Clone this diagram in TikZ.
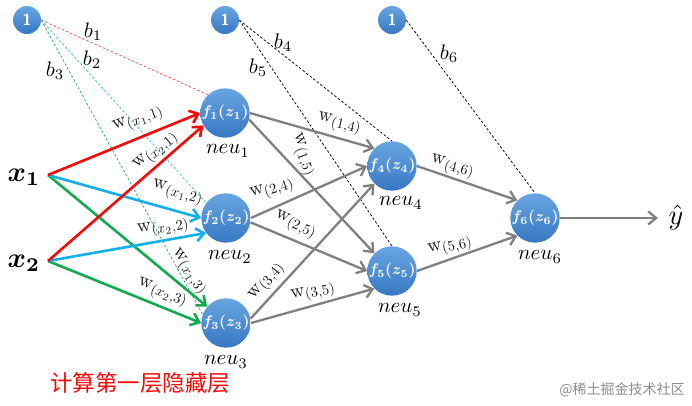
\documentclass[tikz,border=0pt]{standalone}
\usepackage{graphicx}
\usepackage{bm}
\usepackage{fontspec}
\newfontfamily\cjk{Noto Sans CJK SC}
\usetikzlibrary{arrows.meta}
\definecolor{ntop}{RGB}{105,165,225}
\definecolor{nbot}{RGB}{55,120,195}
\definecolor{nred}{RGB}{245,10,10}
\definecolor{ncyan}{RGB}{20,175,235}
\definecolor{ngreen}{RGB}{20,170,80}
\definecolor{ngray}{RGB}{128,128,128}
\definecolor{dred}{RGB}{235,80,80}
\definecolor{dcyan}{RGB}{70,180,220}
\definecolor{dgreen}{RGB}{40,170,130}
\newcommand\wlab[1]{\scalebox{1.95}{$\mathrm{w}$}\raisebox{-3.8pt}{\scalebox{1.45}{$(#1)$}}}
\newcommand\mysc[2]{\scalebox{#1}{#2}}
\begin{document}
\begin{tikzpicture}[x=1pt,y=-1pt,
  fnode/.style={circle,minimum size=44pt,inner sep=0pt,top color=ntop,bottom color=nbot,draw=none,text=white},
  bnode/.style={circle,minimum size=28pt,inner sep=0pt,top color=ntop,bottom color=nbot,draw=none,text=white,font=\sffamily\bfseries\fontsize{16}{16}\selectfont},
  arr/.style={line width=2.6pt,-{Straight Barb[length=8pt,width=13pt]}},
  garr/.style={arr,ngray,line width=2.3pt},
  bias/.style={line width=0.75pt,dash pattern=on 2.5pt off 2pt},
  wl/.style={inner sep=0pt,text=black!90},
  bl/.style={inner sep=0pt},
  nl/.style={inner sep=0pt}]
\useasboundingbox[fill=white] (0,0) rectangle (692,405);
% nodes
\node[bnode] (c1) at (27,20) {1};
\node[bnode] (c2) at (225,20) {1};
\node[bnode] (c3) at (392,20) {1};
\node[fnode] (f1) at (225,113) {\mysc{1.55}{$\bm{f_1(z_1)}$}};
\node[fnode] (f2) at (226,218) {\mysc{1.55}{$\bm{f_2(z_2)}$}};
\node[fnode] (f3) at (226,323) {\mysc{1.55}{$\bm{f_3(z_3)}$}};
\node[fnode] (f4) at (392,166) {\mysc{1.55}{$\bm{f_4(z_4)}$}};
\node[fnode] (f5) at (392,271) {\mysc{1.55}{$\bm{f_5(z_5)}$}};
\node[fnode] (f6) at (535,218) {\mysc{1.55}{$\bm{f_6(z_6)}$}};
\node[inner sep=0pt] (x1) at (24,177) {\mysc{2.8}{$\bm{x_1}$}};
\node[inner sep=0pt] (x2) at (24,263) {\mysc{2.8}{$\bm{x_2}$}};
\coordinate (x1o) at (48,175);
\coordinate (x2o) at (48,261);
\coordinate (yo) at (658,218);
\node[inner sep=0pt] (yh) at (676,217) {\mysc{2.8}{$\hat{y}$}};
% bias dashed
\draw[bias,dred] (c1.east) -- (f1.133);
\draw[bias,dcyan] (c1.east) -- (f2.143);
\draw[bias,dgreen] (c1.east) -- (f3.160);
\draw[bias,black] (c2.east) -- (f4.north);
\draw[bias,black] (c2.east) -- (f5.north);
\draw[bias,black] (c3.east) -- (f6.north);
% input arrows
\draw[arr,ngreen] (x1o) -- (f3.139);
\draw[arr,ngreen] (x2o) -- (f3.180);
\draw[arr,ncyan] (x1o) -- (f2.180);
\draw[arr,ncyan] (x2o) -- (f2.217);
\draw[arr,nred] (x1o) -- (f1.180);
\draw[arr,nred] (x2o) -- (f1.210);
% hidden arrows
\draw[garr] (f1.east) -- (f4.135);
\draw[garr] (f1.345) -- (f5.135);
\draw[garr] (f2.east) -- (f4.180);
\draw[garr] (f2.350) -- (f5.180);
\draw[garr] (f3.10) -- (f4.225);
\draw[garr] (f3.east) -- (f5.225);
\draw[garr] (f4.east) -- (f6.135);
\draw[garr] (f5.east) -- (f6.225);
\draw[garr] (f6.east) -- (yo);
% bias labels
\node[bl] (lb1) at (93,32) {\mysc{2.1}{$b_1$}};
\node[bl] (lb2) at (92,60) {\mysc{2.1}{$b_2$}};
\node[bl] (lb3) at (55,71) {\mysc{2.1}{$b_3$}};
\node[bl] (lb4) at (283,43) {\mysc{2.1}{$b_4$}};
\node[bl] (lb5) at (258,68) {\mysc{2.1}{$b_5$}};
\node[bl] (lb6) at (449,54) {\mysc{2.1}{$b_6$}};
% weight labels
\node[wl,rotate=20] (w11) at (138,120) {\wlab{x_1{,}1}};
\node[wl,rotate=40] (w21) at (156,152) {\wlab{x_2{,}1}};
\node[wl,rotate=-15] (w12) at (177,193) {\wlab{x_1{,}2}};
\node[wl,rotate=8] (w22) at (163,228) {\wlab{x_2{,}2}};
\node[wl,rotate=-55] (w13) at (188,272) {\wlab{x_1{,}3}};
\node[wl,rotate=-20] (w23) at (162,293) {\wlab{x_2{,}3}};
\node[wl,rotate=-13] (w14) at (339,124) {\wlab{1{,}4}};
\node[wl,rotate=-70] (w15) at (302,155) {\wlab{1{,}5}};
\node[wl,rotate=17] (w24) at (272,190) {\wlab{2{,}4}};
\node[wl,rotate=-25] (w25) at (295,225) {\wlab{2{,}5}};
\node[wl,rotate=50] (w34) at (267,282) {\wlab{3{,}4}};
\node[wl,rotate=12] (w35) at (313,293) {\wlab{3{,}5}};
\node[wl,rotate=-15] (w46) at (452,167) {\wlab{4{,}6}};
\node[wl,rotate=12] (w56) at (450,247) {\wlab{5{,}6}};
% neuron labels
\node[nl] (n1) at (228,151) {\mysc{2.1}{$neu_1$}};
\node[nl] (n2) at (230,257) {\mysc{2.1}{$neu_2$}};
\node[nl] (n3) at (226,362) {\mysc{2.1}{$neu_3$}};
\node[nl] (n4) at (401,203) {\mysc{2.1}{$neu_4$}};
\node[nl] (n5) at (400,310) {\mysc{2.1}{$neu_5$}};
\node[nl] (n6) at (540,257) {\mysc{2.1}{$neu_6$}};
% caption
\node[inner sep=0pt,text=nred,font=\cjk\fontsize{22.5}{22.5}\selectfont] (cap) at (140,383) {计算第一层隐藏层};
\node[inner sep=0pt,text=black!45,font=\cjk\fontsize{14}{14}\selectfont] (wm) at (622,390) {@稀土掘金技术社区};
\end{tikzpicture}
\end{document}
